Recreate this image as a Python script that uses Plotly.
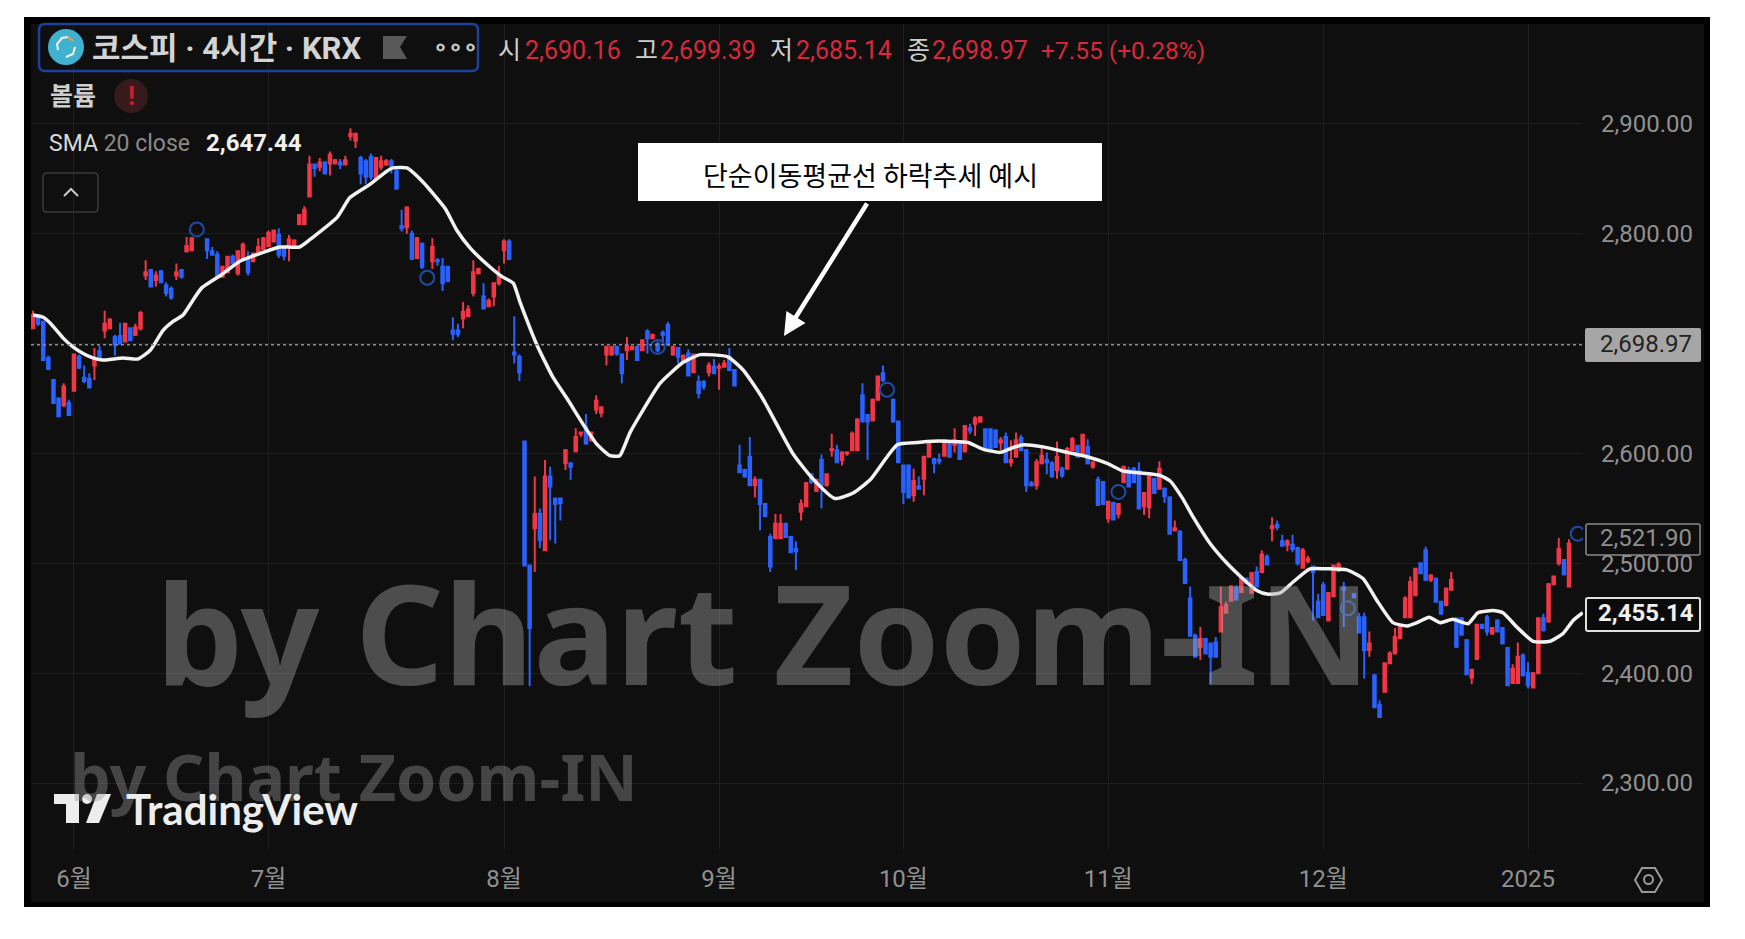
#!/usr/bin/env python
# -*- coding: utf-8 -*-
# KOSPI 4h candles with SMA 20, TradingView dark style
import plotly.graph_objects as go

opens = [
    2714,2724,2720,2687,2667,2650,2644,2646,2657,2688,
    2669,2668,2680,2693,2712,2714,2706,2707,2702,2714,
    2708,2714,2762,2767,2758,2766,2753,2750,2762,2767,
    2784,2785,None,None,2795,2784,2781,2761,2765,2779,
    2764,2776,2777,2775,2782,2786,2789,2793,2799,2787,
    2788,2790,2809,2809,2834,2863,2861,2865,2864,2864,
    2865,2863,2889,2885,2869,2866,2870,2850,2861,2863,
    2866,2857,2807,2806,2800,2778,2791,None,2775,2776,
    2770,2770,2712,2712,2723,2725,2746,2764,2743,2734,
    2743,2755,2785,2793,2692,2688,2611,2498,2532,2545,
    2512,2579,2559,2559,2591,2591,2602,2618,2624,2612,
    2640,2637,2690,2690,2697,2690,2694,2695,2697,2694,
    2711,2705,2700,2710,2717,2690,2696,2685,2691,2674,
    2665,2665,2674,2679,2678,2679,2688,2676,2589,2585,
    2597,2571,2576,2554,2524,2523,2523,2536,2524,2513,
    2547,2552,2581,2566,2594,2571,2603,2603,2594,2600,
    2603,2603,2653,2635,2630,2649,2673,None,2649,2629,
    2589,2589,2562,2570,2577,2597,2595,2594,2598,2609,
    2608,2611,2602,2623,2627,2629,2622,2622,2621,2610,
    2615,2592,2597,2614,2603,2573,2571,2591,2594,2591,
    2585,2586,2586,2603,2607,2598,2606,2588,2576,2574,
    2541,2555,2545,2574,2585,2586,2584,2552,2551,2577,
    2568,2568,2560,2530,2529,2503,2468,2434,2424,2431,
    2427,2428,2438,2455,2466,2478,2474,2486,2473,2492,
    2492,2506,2532,2535,2520,2517,2517,2514,2496,2502,
    2497,2465,2480,2448,2470,2493,2478,None,2472,2451,
    2451,2421,2398,2371,2383,2409,2418,2432,2451,2451,
    2471,2500,2512,2485,2486,2465,2462,2476,2450,2450,
    2430,2396,2413,2444,2451,2436,2448,2441,2423,2391,
    2391,2416,2400,2387,2400,2450,2447,2481,2500,2503,2479,
]
highs = [
    2730,2726,2721,2689,2667,2650,2664,2649,2691,2690,
    2680,2673,2696,2698,2730,2723,2708,2719,2719,2715,
    2718,2730,2776,2768,2766,2767,2756,2752,2773,2768,
    2797,2797,None,None,2796,2788,2784,2771,2780,2781,
    2785,2792,2784,2783,2796,2797,2803,2804,2805,2788,
    2799,2795,2818,2825,2871,2864,2869,2866,2875,2868,
    2868,2871,2896,2892,2871,2868,2873,2870,2871,2868,
    2868,2858,2822,2825,2803,2797,2792,None,2796,2778,
    2778,2771,2724,2718,2738,2735,2776,2769,2755,2741,
    2756,2771,2795,2795,2725,2690,2611,2499,2579,2550,
    2594,2588,2559,2560,2604,2592,2623,2620,2636,2620,
    2653,2643,2698,2698,2698,2691,2706,2698,2698,2704,
    2713,2709,2702,2712,2720,2698,2697,2690,2695,2691,
    2671,2667,2683,2686,2682,2685,2696,2677,2608,2586,
    2615,2579,2577,2555,2527,2545,2545,2537,2525,2520,
    2558,2574,2582,2577,2599,2582,2618,2608,2602,2602,
    2620,2632,2664,2636,2650,2671,2680,None,2650,2630,
    2590,2590,2586,2579,2598,2610,2596,2600,2613,2610,
    2623,2612,2626,2627,2634,2634,2623,2623,2622,2615,
    2619,2612,2619,2617,2604,2575,2595,2607,2601,2593,
    2611,2588,2606,2615,2608,2618,2613,2593,2579,2575,
    2557,2556,2555,2588,2588,2588,2592,2565,2580,2578,
    2593,2569,2561,2539,2530,2505,2479,2436,2442,2432,
    2428,2433,2479,2465,2480,2480,2488,2487,2492,2497,
    2512,2508,2542,2539,2526,2522,2526,2515,2514,2507,
    2497,2472,2483,2474,2499,2501,2483,None,2473,2455,
    2455,2438,2398,2375,2410,2420,2441,2444,2470,2488,
    2496,2501,2515,2490,2487,2466,2478,2492,2451,2451,
    2431,2404,2444,2445,2453,2442,2449,2442,2423,2408,
    2428,2418,2410,2401,2451,2454,2482,2489,2523,2504,2522,
]
lows = [
    2714,2716,2684,2677,2646,2634,2642,2635,2657,2677,
    2664,2660,2667,2686,2705,2713,2689,2700,2702,2703,
    2707,2712,2758,2752,2752,2755,2743,2740,2758,2759,
    2783,2785,None,None,2777,2780,2759,2760,2764,2772,
    2762,2775,2762,2774,2781,2785,2788,2792,2778,2776,
    2775,2789,2809,2809,2834,2852,2857,2855,2853,2863,
    2859,2863,2885,2878,2845,2845,2849,2850,2858,2862,
    2855,2841,2802,2800,2777,2778,2768,None,2768,2771,
    2748,2757,2703,2706,2714,2724,2743,2763,2732,2734,
    2734,2753,2773,2777,2682,2666,2498,2388,2492,2514,
    2512,2521,2518,2539,2585,2576,2601,2615,2608,2611,
    2636,2633,2680,2689,2689,2664,2685,2694,2685,2693,
    2691,2704,2692,2700,2698,2689,2682,2684,2671,2673,
    2650,2658,2670,2673,2658,2678,2675,2662,2582,2578,
    2571,2560,2530,2542,2492,2522,2522,2523,2510,2494,
    2539,2551,2572,2565,2550,2570,2597,2592,2589,2598,
    2602,2603,2629,2594,2630,2648,2665,None,2628,2592,
    2554,2560,2556,2567,2562,2596,2582,2590,2597,2597,
    2601,2594,2601,2618,2616,2628,2604,2602,2606,2603,
    2592,2588,2596,2603,2565,2570,2567,2590,2581,2579,
    2577,2578,2586,2602,2596,2597,2590,2586,2553,2554,
    2537,2539,2541,2574,2569,2574,2550,2544,2541,2563,
    2568,2555,2527,2529,2503,2482,2434,2414,2412,2417,
    2390,2415,2438,2454,2465,2466,2473,2481,2472,2478,
    2491,2498,2520,2530,2515,2511,2510,2498,2495,2500,
    2448,2450,2452,2447,2470,2492,2442,None,2468,2436,
    2395,2415,2369,2360,2383,2408,2417,2431,2450,2450,
    2470,2490,2484,2483,2465,2454,2461,2475,2423,2434,
    2398,2390,2413,2440,2434,2435,2437,2427,2389,2391,
    2391,2397,2386,2386,2399,2438,2446,2480,2498,2489,2479,
]
closes = [
    2726,2718,2685,2677,2646,2634,2661,2635,2690,2678,
    2666,2660,2687,2686,2718,2722,2699,2700,2718,2703,
    2715,2728,2765,2752,2762,2756,2746,2742,2765,2761,
    2789,2796,None,None,2785,2781,2761,2770,2779,2773,
    2784,2790,2765,2782,2788,2796,2801,2803,2781,2780,
    2795,2794,2817,2822,2863,2860,2865,2855,2872,2867,
    2863,2867,2891,2891,2855,2852,2852,2869,2866,2866,
    2860,2841,2805,2824,2777,2796,2770,None,2788,2775,
    2755,2757,2709,2709,2729,2731,2765,2768,2732,2739,
    2755,2762,2793,2777,2690,2674,2498,2441,2545,2521,
    2579,2570,2554,2555,2603,2588,2615,2619,2609,2619,
    2648,2642,2697,2697,2691,2673,2698,2697,2685,2703,
    2705,2708,2694,2708,2699,2697,2688,2689,2671,2690,
    2655,2661,2680,2673,2679,2682,2676,2662,2583,2579,
    2571,2576,2554,2543,2497,2536,2536,2524,2510,2511,
    2554,2573,2574,2576,2571,2581,2604,2592,2601,2601,
    2618,2631,2629,2629,2649,2670,2667,None,2629,2592,
    2565,2560,2575,2568,2597,2609,2591,2593,2612,2597,
    2612,2595,2625,2621,2632,2633,2605,2603,2606,2612,
    2592,2594,2612,2603,2571,2571,2592,2598,2592,2579,
    2597,2580,2604,2613,2597,2617,2591,2592,2553,2554,
    2556,2540,2554,2588,2570,2574,2550,2564,2579,2564,
    2586,2561,2527,2532,2503,2482,2434,2415,2431,2418,
    2415,2415,2460,2462,2479,2467,2487,2482,2491,2479,
    2508,2499,2534,2533,2516,2520,2513,2500,2512,2504,
    2492,2451,2453,2473,2498,2499,2476,None,2469,2437,
    2421,2427,2369,2360,2409,2418,2433,2443,2468,2483,
    2495,2491,2485,2489,2465,2454,2477,2485,2424,2435,
    2399,2403,2444,2441,2438,2441,2438,2427,2389,2404,
    2415,2398,2389,2400,2450,2439,2481,2488,2513,2490,2518,
]
assert len(opens) == len(highs) == len(lows) == len(closes) == 301
bars = list(range(len(opens)))

# SMA 20
sma_bars = [
    0,2,3.3,5.9,7.8,9.8,11.7,13.5,17.6,20.5,22.9,25.4,27.3,29.3,31.3,33,36.9,40.4,44.9,48.2,
    52.1,54.7,59.4,61.9,65.8,69.1,70.3,73,76.2,80.5,82.8,85.4,88.7,91.6,93.8,95.1,98.4,101.6,
    104.3,107.8,110.2,112.7,114.6,116.6,122.5,127,130.3,135.7,138.7,142.4,148.4,152.1,156.6,
    160.2,163.5,168.8,172.7,174.6,179.7,182.6,185.5,188.9,191.2,193.4,197.3,202,205.9,209.8,
    212.9,216.8,220.1,222.1,224.4,226.6,229.9,233.2,236.3,239.1,241,243.6,246.1,249.4,252.7,
    256.6,259.8,262.5,265.6,268.4,270.3,272.7,274.8,277.3,280.3,282.2,285.2,287.1,289.8,293,
    296.3,298.8,300.8,302.7,
]
sma_values = [
    2726,2724,2719,2705,2697,2691,2687,2685,2687,2686,2694,2712,2720,2726,2740,2751,2763,2775,2783,2788,
    2788,2797,2815,2833,2845,2857,2860,2860,2847,2823,2803,2787,2772,2761,2755,2738,2699,2669,
    2650,2624,2608,2598,2598,2619,2664,2683,2690,2688,2676,2651,2600,2578,2559,
    2564,2576,2608,2610,2611,2611,2610,2604,2601,2605,2608,2606,2601,2597,2591,
    2584,2582,2580,2575,2560,2542,2518,2500,2486,2475,2472,2473,2483,2495,2495,
    2494,2486,2466,2446,2443,2446,2451,2446,2449,2445,2455,2457,2455,2442,2429,
    2429,2436,2448,2455,
]

circle_bars = [32, 77, 122, 166.8, 212, 256.8, 301.7]
circle_values = [2804, 2760, 2697, 2658, 2565, 2459, 2527]

month_bars = [8, 46, 92, 134, 170, 210, 252, 292]
month_labels = ["6월", "7월", "8월", "9월", "10월", "11월", "12월", "2025"]
price_ticks = [2300, 2400, 2500, 2600, 2700, 2800, 2900]
price_labels = ["2,300.00", "2,400.00", "2,500.00", "2,600.00", "", "2,800.00", "2,900.00"]
last_price = 2698.97

# plot area in page pixels
L, R, T, B = 31, 1583, 24, 850
W, H = 1745, 939


def px(x):
    return (x - L) / (R - L)


def py(y):
    return 1 - (y - T) / (B - T)


def path(points):
    return "M " + " L ".join(f"{px(x):.5f},{py(y):.5f}" for x, y in points) + " Z"


def open_path(points):
    return "M " + " L ".join(f"{px(x):.5f},{py(y):.5f}" for x, y in points)


def round_rect(x0, y0, x1, y1, r):
    a, b, c, d = px(x0), py(y0), px(x1), py(y1)
    rx, ry = r / (R - L), r / (B - T)
    return (f"M {a+rx:.5f},{b:.5f} L {c-rx:.5f},{b:.5f} Q {c:.5f},{b:.5f} {c:.5f},{b-ry:.5f} "
            f"L {c:.5f},{d+ry:.5f} Q {c:.5f},{d:.5f} {c-rx:.5f},{d:.5f} "
            f"L {a+rx:.5f},{d:.5f} Q {a:.5f},{d:.5f} {a:.5f},{d+ry:.5f} "
            f"L {a:.5f},{b-ry:.5f} Q {a:.5f},{b:.5f} {a+rx:.5f},{b:.5f} Z")


def box(x0, y0, x1, y1, **kw):
    return dict(type="rect", xref="paper", yref="paper", x0=px(x0), x1=px(x1), y0=py(y1), y1=py(y0), **kw)


KR = "Roboto, 'Noto Sans CJK KR'"
RED = "#D9283C"


def label(x, y, text, size, color, anchor="left", font=KR):
    return dict(xref="paper", yref="paper", x=px(x), y=py(y), text=text, showarrow=False,
                xanchor=anchor, yanchor="middle", borderpad=0,
                font=dict(family=font, size=size, color=color))


fig = go.Figure()
fig.add_trace(go.Candlestick(
    x=bars, open=opens, high=highs, low=lows, close=closes,
    increasing=dict(line=dict(color="#F23645", width=2), fillcolor="#F23645"),
    decreasing=dict(line=dict(color="#2962FF", width=2), fillcolor="#2962FF"),
    whiskerwidth=0, hoverinfo="skip", showlegend=False,
))
fig.add_trace(go.Scatter(
    x=sma_bars, y=sma_values, mode="lines", hoverinfo="skip", showlegend=False,
    line=dict(color="#F2F2F2", width=3.5, shape="spline", smoothing=0.5),
))
fig.add_trace(go.Scatter(
    x=circle_bars, y=circle_values, mode="markers", hoverinfo="skip", showlegend=False,
    marker=dict(symbol="circle-open", size=14, color="#1E4BA8", line=dict(width=2, color="#1E4BA8")),
))

shapes = [
    # white page, black frame, dark panel
    box(24, 17, 1710, 907, fillcolor="#000000", line_width=0, layer="below"),
    box(31, 24, 1704, 902, fillcolor="#0F0F0F", line_width=0, layer="below"),
    # last price dotted line
    dict(type="line", xref="paper", yref="y", x0=0, x1=1, y0=last_price, y1=last_price,
         line=dict(color="#8C8C8C", width=1.5, dash="dot"), layer="above"),
    # legend box and its icons
    dict(type="path", xref="paper", yref="paper", path=round_rect(39, 24, 478, 71, 6),
         line=dict(color="#1C409C", width=2.5), layer="above"),
    dict(type="circle", xref="paper", yref="paper", x0=px(48), x1=px(84), y0=py(65), y1=py(29),
         fillcolor="#41B1D2", line_width=0, layer="above"),
    dict(type="path", xref="paper", yref="paper",
         path=open_path([(58, 50), (57, 44), (62, 38), (68, 37)]),
         line=dict(color="#F4F4F4", width=2), layer="above"),
    dict(type="path", xref="paper", yref="paper",
         path=open_path([(75, 47), (73, 54), (66, 57)]),
         line=dict(color="#F4F4F4", width=2), layer="above"),
    dict(type="path", xref="paper", yref="paper",
         path=open_path([(68, 37), (73, 41)]),
         line=dict(color="#E8A33D", width=2), layer="above"),
    dict(type="path", xref="paper", yref="paper",
         path=path([(383, 36), (407, 36), (400, 47), (407, 59), (383, 59)]),
         fillcolor="#595959", line_width=0, layer="above"),
    dict(type="circle", xref="paper", yref="paper", x0=px(114), x1=px(148), y0=py(113), y1=py(79),
         fillcolor="#371A1C", line_width=0, layer="above"),
    dict(type="path", xref="paper", yref="paper", path=round_rect(43, 173, 98, 212, 4),
         line=dict(color="#3A3A3A", width=1.5), layer="above"),
    dict(type="path", xref="paper", yref="paper",
         path=open_path([(64, 196), (71, 189), (78, 196)]),
         line=dict(color="#C8C8C8", width=2), layer="above"),
    # annotation box
    box(638, 143, 1102, 201, fillcolor="#FFFFFF", line_width=0, layer="above"),
    # price labels
    dict(type="path", xref="paper", yref="paper", path=round_rect(1585, 328, 1701, 362, 2),
         fillcolor="#A6A6A6", line_width=0, layer="above"),
    dict(type="path", xref="paper", yref="paper", path=round_rect(1586, 524, 1700, 555, 2),
         fillcolor="#0F0F0F", line=dict(color="#8A8A8A", width=1.5), layer="above"),
    dict(type="path", xref="paper", yref="paper", path=round_rect(1586, 598, 1700, 631, 2),
         fillcolor="#0A0A0A", line=dict(color="#E0E0E0", width=2), layer="above"),
    # settings hexagon
    dict(type="path", xref="paper", yref="paper",
         path=path([(1635, 880), (1642, 868), (1655, 868), (1662, 880), (1655, 892), (1642, 892)]),
         line=dict(color="#9A9A9A", width=2), layer="above"),
    dict(type="circle", xref="paper", yref="paper", x0=px(1644), x1=px(1653), y0=py(884), y1=py(875),
         line=dict(color="#9A9A9A", width=2), layer="above"),
    # TradingView logo
    dict(type="path", xref="paper", yref="paper",
         path=path([(54, 794), (79, 794), (79, 823), (66, 823), (66, 804), (54, 804)]),
         fillcolor="#EDEDED", line_width=0, layer="above"),
    dict(type="circle", xref="paper", yref="paper", x0=px(82), x1=px(92), y0=py(804), y1=py(794),
         fillcolor="#EDEDED", line_width=0, layer="above"),
    dict(type="path", xref="paper", yref="paper",
         path=path([(97, 794), (111, 794), (99, 823), (86, 823)]),
         fillcolor="#EDEDED", line_width=0, layer="above"),
]

annotations = [
    # watermarks sit over the candles
    label(155, 631, "<b>by Chart Zoom-IN</b>", 138, "rgba(165,165,165,0.42)", font="'Noto Sans'"),
    label(69, 776, "<b>by Chart Zoom-IN</b>", 64.5, "rgba(150,150,150,0.4)", font="'Noto Sans'"),
    label(125, 809, "<b>TradingView</b>", 42, "#EDEDED", font="Lato"),
    # legend
    label(91, 49, "<b>코스피 · 4시간 · KRX</b>", 31, "#D4D4D4"),
    label(432, 47, "<b>∘∘∘</b>", 24, "#C8C8C8"),
    label(497, 50, "시", 25, "#CFCFCF"),
    label(524, 50, "2,690.16", 25, RED),
    label(634, 50, "고", 25, "#CFCFCF"),
    label(659, 50, "2,699.39", 25, RED),
    label(769, 50, "저", 25, "#CFCFCF"),
    label(795, 50, "2,685.14", 25, RED),
    label(906, 50, "종", 25, "#CFCFCF"),
    label(931, 50, "2,698.97", 25, RED),
    label(1040, 50, "+7.55 (+0.28%)", 24.5, RED),
    label(49, 96, "<b>볼륨</b>", 25, "#CFCFCF"),
    label(131, 96, "<b>!</b>", 26, "#C8202F", anchor="center"),
    label(48, 143, "SMA <span style='color:#8A8A8A'>20 close</span>", 23, "#D8D8D8"),
    label(205, 143, "<b>2,647.44</b>", 24, "#F0F0F0"),
    # note and arrow
    label(870, 174, "단순이동평균선 하락추세 예시", 27, "#000000", anchor="center", font="'Noto Sans CJK KR'"),
    dict(xref="paper", yref="paper", x=px(784), y=py(336), ax=84, ay=-134, text="", showarrow=True,
         arrowhead=2, arrowsize=1, arrowwidth=4.5, arrowcolor="#FFFFFF", axref="pixel", ayref="pixel"),
    # price labels
    label(1646, 344, "2,698.97", 24, "#222222", anchor="center"),
    label(1646, 538, "2,521.90", 24, "#8F8F8F", anchor="center"),
    label(1646, 613, "<b>2,455.14</b>", 24, "#F0F0F0", anchor="center"),
]

fig.update_layout(
    width=W, height=H, autosize=False,
    margin=dict(l=L, r=W - R, t=T, b=H - B),
    paper_bgcolor="#FFFFFF", plot_bgcolor="#0F0F0F",
    shapes=shapes, annotations=annotations, showlegend=False,
    xaxis=dict(
        range=[-0.39, 302.73], tickmode="array", tickvals=month_bars, ticktext=month_labels,
        rangeslider=dict(visible=False), showgrid=True, gridcolor="#1E1E1E", gridwidth=1,
        zeroline=False, showline=False, ticks="", ticklabelstandoff=12,
        tickfont=dict(family=KR, size=24, color="#919191"),
    ),
    yaxis=dict(
        range=[2239, 2991], side="right", tickmode="array", tickvals=price_ticks, ticktext=price_labels,
        showgrid=True, gridcolor="#1E1E1E", gridwidth=1, zeroline=False, showline=False, ticks="",
        ticklabelstandoff=17, tickfont=dict(family=KR, size=24, color="#919191"),
    ),
)

fig.write_html("out.html", config=dict(displayModeBar=False),
               post_script="document.body.style.margin='0';document.body.style.overflow='hidden';")
